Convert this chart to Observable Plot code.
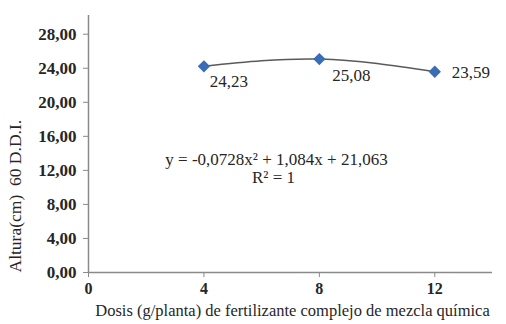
<!DOCTYPE html>
<html><head><meta charset="utf-8">
<script src="https://cdn.jsdelivr.net/npm/d3@7"></script>
<script src="https://cdn.jsdelivr.net/npm/@observablehq/plot@0.6"></script>
<style>
body{margin:0;background:#fff}
#chart svg, #chart svg text {font-family: "Liberation Serif", "DejaVu Serif", serif !important;}
</style></head>
<body><div id="chart"></div>
<script>
const doses = [4, 8, 12];
const heights = [24.23, 25.08, 23.59];
const pointLabels = ["24,23", "25,08", "23,59"];
const xTicks = [0, 4, 8, 12];
const yTicks = [0, 4, 8, 12, 16, 20, 24, 28];
const equationText = "y = -0,0728x² + 1,084x + 21,063";
const r2Text = "R² = 1";
const xTitle = "Dosis (g/planta) de fertilizante complejo de mezcla química";
const yTitle = "Altura(cm)  60 D.D.I.";

const data = doses.map((d, i) => ({dose: d, h: heights[i], label: pointLabels[i]}));
const fmt = d => d.toFixed(2).replace(".", ",");
const ink = "#262626";

const plot = Plot.plot({
  width: 506, height: 324,
  marginLeft: 88, marginRight: 14, marginTop: 15, marginBottom: 52,
  style: {fontSize: "16px", color: ink, background: "#fff"},
  x: {domain: [0, 14]},
  y: {domain: [0, 30.2]},
  marks: [
    Plot.axisY({ticks: yTicks, tickFormat: fmt, tickSize: 5, tickPadding: 7, stroke: "#8a8a8a", label: null, fontSize: 17, fill: ink, fontWeight: "bold"}),
    Plot.axisX({ticks: xTicks, tickSize: 5, tickPadding: 5, stroke: "#8a8a8a", label: null, fontSize: 16, fill: ink, fontWeight: "bold"}),
    Plot.ruleX([0], {stroke: "#8a8a8a", strokeWidth: 1.5}),
    Plot.ruleY([0], {stroke: "#8a8a8a", strokeWidth: 1.5}),
    Plot.line(data, {x: "dose", y: "h", curve: "natural", stroke: "#5a5a5a", strokeWidth: 1.5}),
    Plot.dot(data, {x: "dose", y: "h", symbol: "diamond2", r: 4.6, fill: "#3a6db5", stroke: "#3a6db5"}),
    Plot.text(data.filter((d, i) => i === 0), {x: "dose", y: "h", text: "label", dx: 25, dy: 15, fontSize: 17, fill: ink}),
    Plot.text(data.filter((d, i) => i === 1), {x: "dose", y: "h", text: "label", dx: 32, dy: 16, fontSize: 17, fill: ink}),
    Plot.text(data.filter((d, i) => i === 2), {x: "dose", y: "h", text: "label", dx: 36, dy: 1, fontSize: 17, fill: ink}),
    Plot.text([equationText], {frameAnchor: "top-left", dx: 188, dy: 137, text: d => d, textAnchor: "middle", fontSize: 17, fill: ink}),
    Plot.text([r2Text], {frameAnchor: "top-left", dx: 185, dy: 155, text: d => d, textAnchor: "middle", fontSize: 17, fill: ink}),
    Plot.text([xTitle], {frameAnchor: "bottom", dx: 2, dy: 43, text: d => d, fontSize: 16.5, fill: ink}),
    Plot.text([yTitle], {frameAnchor: "bottom-left", textAnchor: "start", dx: -68, dy: 0, rotate: -90, text: d => d, fontSize: 17.5, fill: ink})
  ]
});
document.getElementById("chart").append(plot);
</script></body></html>
